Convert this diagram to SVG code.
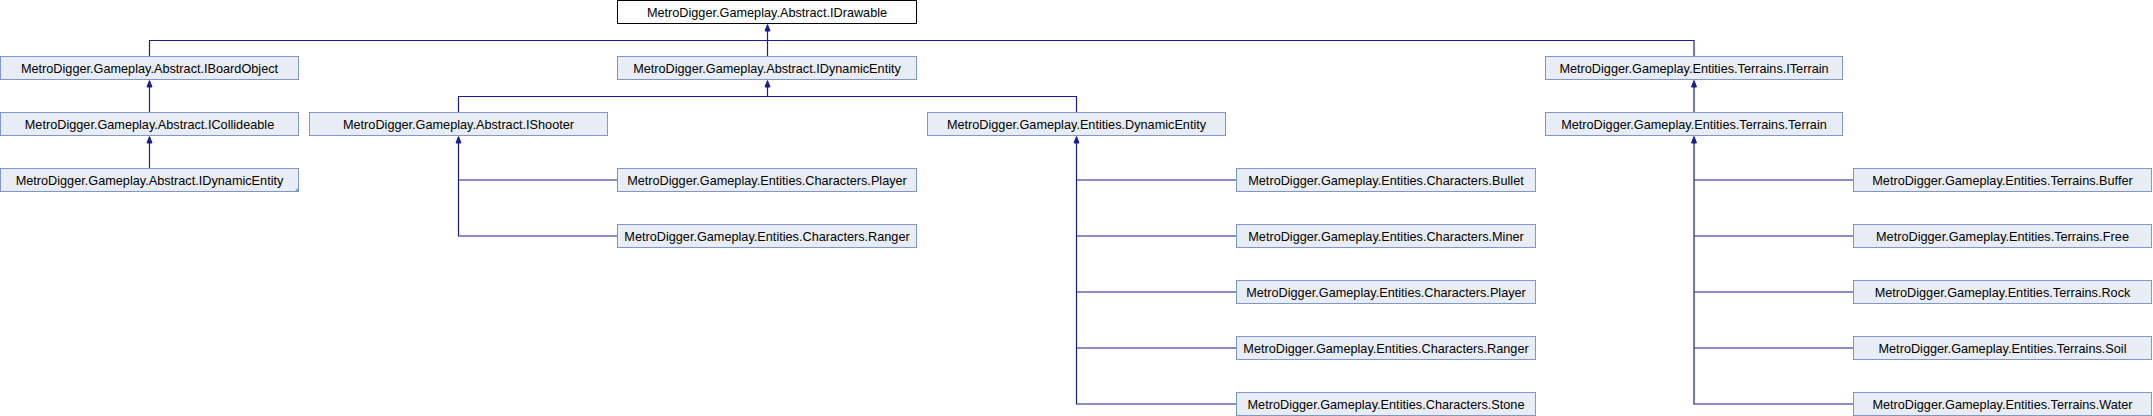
<svg xmlns="http://www.w3.org/2000/svg" width="2153" height="416" viewBox="0 0 2153 416">
<style>
.n rect{fill:#e8ecf5;stroke:#7f97cb;stroke-width:1}
.root rect{fill:#ffffff;stroke:#000000;stroke-width:1}
text{font-family:"Liberation Sans",Arial,sans-serif;font-size:12.7px;fill:#000;text-anchor:middle}
.e path{fill:none;stroke:#1b1b94;stroke-width:1.2}
.e polygon{fill:#1b1b94;stroke:#1b1b94;stroke-width:1}
.fold{fill:#7f97cb}
</style>
<rect width="2153" height="416" fill="#ffffff"/>
<g id="connectors" class="e">
<path d="M149.5,56.5V40.5H767.5"/>
<path d="M1694,56.5V40.5H767.5"/>
<path d="M767.5,56.5V30"/>
<polygon points="767.5,24.5 765,31 770,31"/>
<path d="M458.5,112.5V96.5H1076.5V112.5"/>
<path d="M767.5,96.5V86"/>
<polygon points="767.5,80.5 765,87 770,87"/>
<path d="M149.5,112.5V86"/>
<polygon points="149.5,80.5 147,87 152,87"/>
<path d="M149.5,168.5V142"/>
<polygon points="149.5,136.5 147,143 152,143"/>
<path d="M1694,112.5V86"/>
<polygon points="1694,80.5 1691.5,87 1696.5,87"/>
<path d="M458.5,142V236H617.5M458.5,180H617.5"/>
<polygon points="458.5,136.5 456,143 461,143"/>
<path d="M1076.5,142V404H1236.5M1076.5,180H1236.5M1076.5,236H1236.5M1076.5,292H1236.5M1076.5,348H1236.5"/>
<polygon points="1076.5,136.5 1074,143 1079,143"/>
<path d="M1694,142V404H1853.5M1694,180H1853.5M1694,236H1853.5M1694,292H1853.5M1694,348H1853.5"/>
<polygon points="1694,136.5 1691.5,143 1696.5,143"/>
</g>
<g id="IDrawable" class="root"><rect x="617.5" y="0.5" width="299" height="23"/><text x="767" y="16.5">MetroDigger.Gameplay.Abstract.IDrawable</text></g>
<g id="IBoardObject" class="n"><rect x="0.5" y="56.5" width="298" height="23"/><text x="149.5" y="72.5">MetroDigger.Gameplay.Abstract.IBoardObject</text></g>
<g id="IDynamicEntity" class="n"><rect x="617.5" y="56.5" width="299" height="23"/><text x="767" y="72.5">MetroDigger.Gameplay.Abstract.IDynamicEntity</text></g>
<g id="ITerrain" class="n"><rect x="1545.5" y="56.5" width="297" height="23"/><text x="1694" y="72.5">MetroDigger.Gameplay.Entities.Terrains.ITerrain</text></g>
<g id="ICollideable" class="n"><rect x="0.5" y="112.5" width="298" height="23"/><text x="149.5" y="128.5">MetroDigger.Gameplay.Abstract.ICollideable</text></g>
<g id="IShooter" class="n"><rect x="309.5" y="112.5" width="298" height="23"/><text x="458.5" y="128.5">MetroDigger.Gameplay.Abstract.IShooter</text></g>
<g id="DynamicEntity" class="n"><rect x="927.5" y="112.5" width="298" height="23"/><text x="1076.5" y="128.5">MetroDigger.Gameplay.Entities.DynamicEntity</text></g>
<g id="Terrain" class="n"><rect x="1545.5" y="112.5" width="297" height="23"/><text x="1694" y="128.5">MetroDigger.Gameplay.Entities.Terrains.Terrain</text></g>
<g id="IDynamicEntity2" class="n"><rect x="0.5" y="168.5" width="298" height="23"/><polygon class="fold" points="294.5,191.5 298.5,187.5 298.5,191.5"/><text x="149.5" y="184.5">MetroDigger.Gameplay.Abstract.IDynamicEntity</text></g>
<g id="Player1" class="n"><rect x="617.5" y="168.5" width="299" height="23"/><text x="767" y="184.5">MetroDigger.Gameplay.Entities.Characters.Player</text></g>
<g id="Ranger1" class="n"><rect x="617.5" y="224.5" width="299" height="23"/><text x="767" y="240.5">MetroDigger.Gameplay.Entities.Characters.Ranger</text></g>
<g id="Bullet" class="n"><rect x="1236.5" y="168.5" width="299" height="23"/><text x="1386" y="184.5">MetroDigger.Gameplay.Entities.Characters.Bullet</text></g>
<g id="Miner" class="n"><rect x="1236.5" y="224.5" width="299" height="23"/><text x="1386" y="240.5">MetroDigger.Gameplay.Entities.Characters.Miner</text></g>
<g id="Player2" class="n"><rect x="1236.5" y="280.5" width="299" height="23"/><text x="1386" y="296.5">MetroDigger.Gameplay.Entities.Characters.Player</text></g>
<g id="Ranger2" class="n"><rect x="1236.5" y="336.5" width="299" height="23"/><text x="1386" y="352.5">MetroDigger.Gameplay.Entities.Characters.Ranger</text></g>
<g id="Stone" class="n"><rect x="1236.5" y="392.5" width="299" height="23"/><text x="1386" y="408.5">MetroDigger.Gameplay.Entities.Characters.Stone</text></g>
<g id="Buffer" class="n"><rect x="1853.5" y="168.5" width="298" height="23"/><text x="2002.5" y="184.5">MetroDigger.Gameplay.Entities.Terrains.Buffer</text></g>
<g id="Free" class="n"><rect x="1853.5" y="224.5" width="298" height="23"/><text x="2002.5" y="240.5">MetroDigger.Gameplay.Entities.Terrains.Free</text></g>
<g id="Rock" class="n"><rect x="1853.5" y="280.5" width="298" height="23"/><text x="2002.5" y="296.5">MetroDigger.Gameplay.Entities.Terrains.Rock</text></g>
<g id="Soil" class="n"><rect x="1853.5" y="336.5" width="298" height="23"/><text x="2002.5" y="352.5">MetroDigger.Gameplay.Entities.Terrains.Soil</text></g>
<g id="Water" class="n"><rect x="1853.5" y="392.5" width="298" height="23"/><text x="2002.5" y="408.5">MetroDigger.Gameplay.Entities.Terrains.Water</text></g>
</svg>
